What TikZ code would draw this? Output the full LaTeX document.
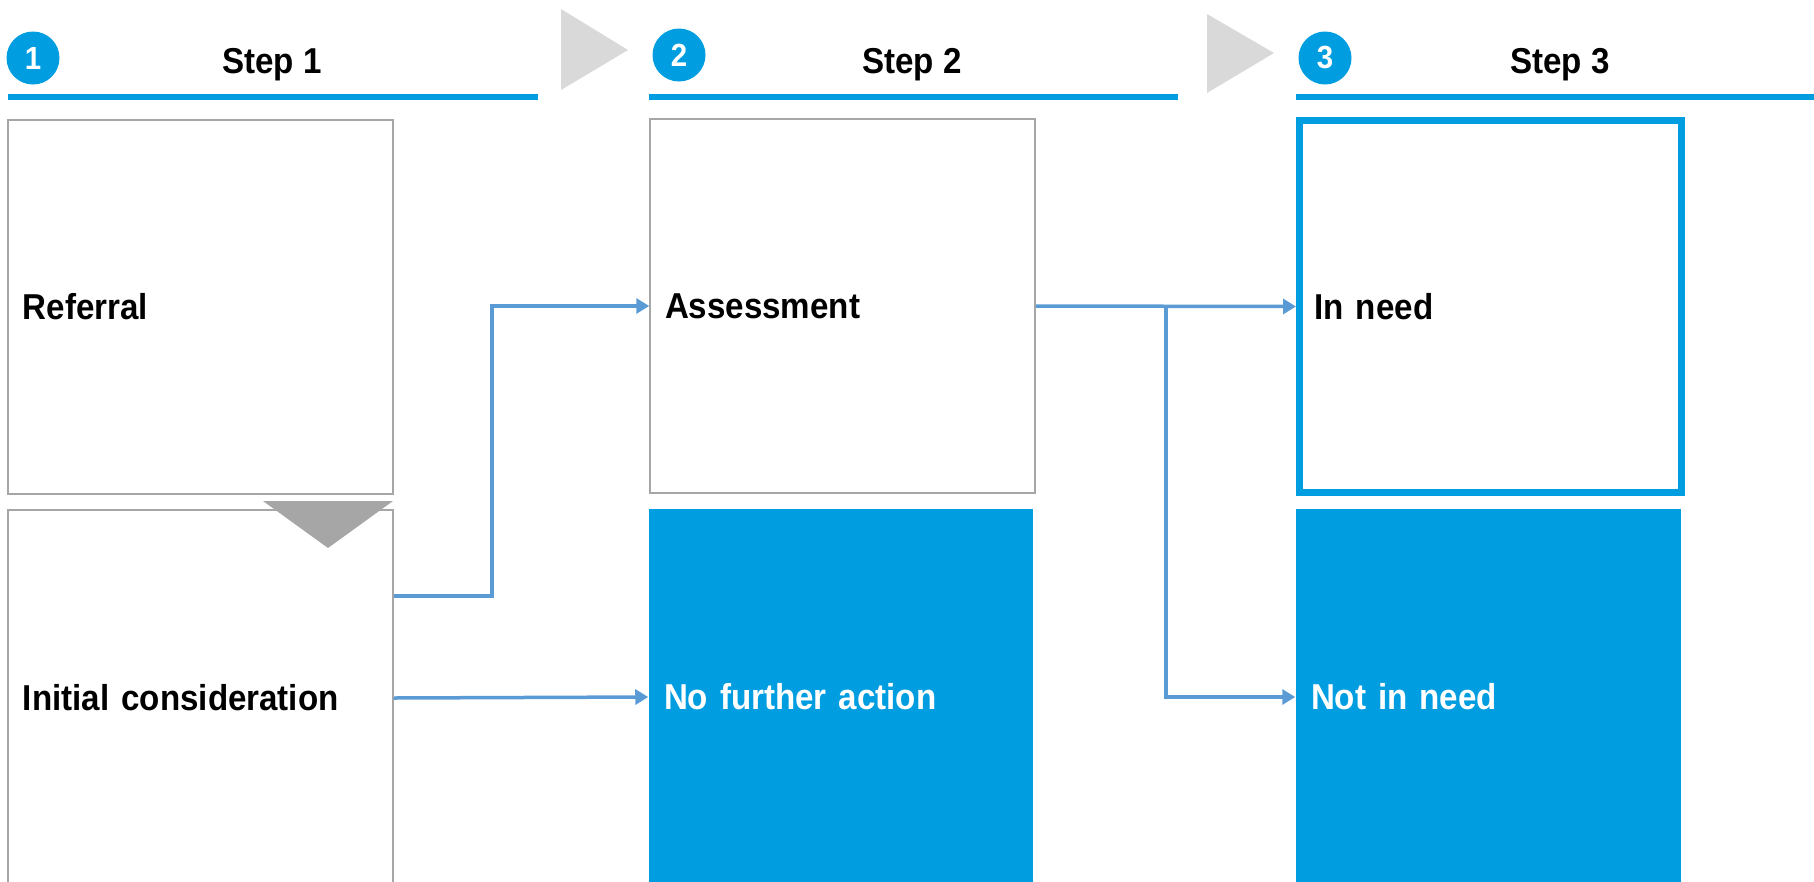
\documentclass[tikz,border=0pt]{standalone}
\usepackage{fontspec}
\setmainfont{Liberation Sans}[FakeStretch=0.92]
\usetikzlibrary{arrows.meta}

\definecolor{stepblue}{RGB}{0,158,224}
\definecolor{linkblue}{RGB}{91,155,213}
\definecolor{boxgray}{RGB}{166,166,166}
\definecolor{chevgray}{RGB}{217,217,217}

\tikzset{
  box/.style={rectangle, draw=boxgray, line width=1.5pt, inner xsep=15pt, align=left,
    font=\fontsize{36}{40}\selectfont\bfseries},
  donebox/.style={box, draw=none, fill=stepblue, text=white},
  stepnum/.style={circle, fill=stepblue, text=white, minimum size=53pt, inner sep=0pt,
    font=\fontsize{32}{36}\selectfont\bfseries},
  steptitle/.style={anchor=base, font=\fontsize{36}{40}\selectfont\bfseries},
  steprule/.style={draw=stepblue, line width=5.5pt},
  link/.style={draw=linkblue, line width=3.5pt, -{Triangle[length=13pt,width=15pt]}},
}

\begin{document}
\begin{tikzpicture}[x=1pt, y=-1pt]
        \useasboundingbox (0,0) rectangle (1814,881);
        \clip (0,0) rectangle (1814,881);

        % step headers
        \node[stepnum] (n1) at (33,58) {1};
        \node[steptitle] (s1) at (272,73) {Step 1};
        \draw[steprule] (8,97) -- (538,97);
        \node[stepnum] (n2) at (679,55) {2};
        \node[steptitle] (s2) at (912,73) {Step 2};
        \draw[steprule] (649,97) -- (1178,97);
        \node[stepnum] (n3) at (1325,58) {3};
        \node[steptitle] (s3) at (1560,73) {Step 3};
        \draw[steprule] (1296,97) -- (1814,97);

        % chevrons between the steps
        \fill[chevgray] (561,9) -- (628,50) -- (561,90) -- cycle;
        \fill[chevgray] (1207,14) -- (1274,53) -- (1207,93) -- cycle;

        % step 1
        \node[box, minimum width=385pt, minimum height=374pt, text width=355pt] (ref) at (200.5,307) {Referral};
        \node[box, minimum width=385pt, minimum height=376pt, text width=355pt] (init) at (200.5,698) {Initial consideration};
        \fill[boxgray] (263,501) -- (393,501) -- (328,548) -- cycle;

        % step 2
        \node[box, minimum width=385pt, minimum height=374pt, text width=355pt] (assess) at (842.5,306) {Assessment};
        \node[donebox, minimum width=384pt, minimum height=376pt, text width=354pt] (nfa) at (841,697) {No further action};

        % step 3
        \node[box, draw=stepblue, line width=7pt, minimum width=382pt, minimum height=372pt, text width=352pt] (inneed) at (1490.5,306.5) {In need};
        \node[donebox, minimum width=385pt, minimum height=376pt, text width=355pt] (notneed) at (1488.5,697) {Not in need};

        % links
        \draw[link] ([yshift=102pt]init.east) -- ++(98,0) |- (assess.west);
        \draw[link] (init.east) -- (nfa.west);
        \draw[link] (assess.east) -- (inneed.west);
        \coordinate (split) at (1166,306);
        \draw[link] (split) |- (notneed.west);
\end{tikzpicture}
\end{document}
